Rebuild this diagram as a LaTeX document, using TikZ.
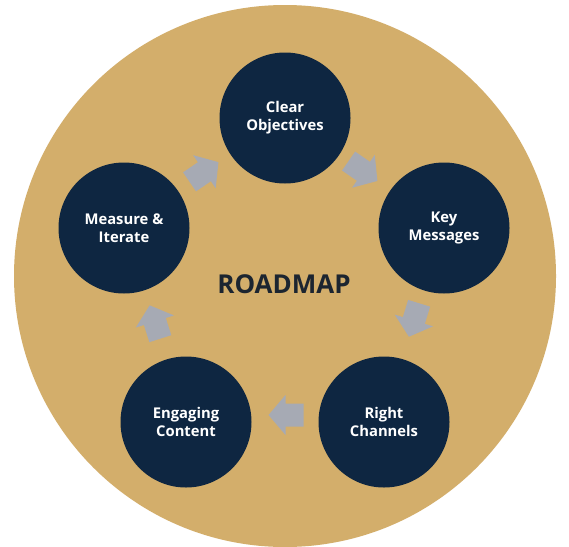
\documentclass[tikz,border=0pt]{standalone}
\usepackage{fontspec}
\setmainfont{Open Sans}
\definecolor{gold}{HTML}{D3AE6B}
\definecolor{navy}{HTML}{0E2641}
\definecolor{arrgray}{HTML}{A6AAB4}
\definecolor{titlecol}{HTML}{1C2530}
\begin{document}
\begin{tikzpicture}[x=1pt,y=-1pt,
  stepcircle/.style={circle,fill=navy,minimum size=131pt,inner sep=0pt,
    text=white,font=\fontsize{14.8}{18}\selectfont\bfseries,align=center},
  blockarrow/.style={fill=arrgray}]
\useasboundingbox (0,0) rectangle (569,546);
\fill[white] (0,0) rectangle (569,546);
\node[circle,fill=gold,minimum size=542pt,inner sep=0pt] (bg) at (285,276) {};
\node[stepcircle] (clear) at (285,118) {Clear\\Objectives};
\node[stepcircle] (key) at (444,228) {Key\\Messages};
\node[stepcircle] (right) at (384,422) {Right\\Channels};
\node[stepcircle] (eng) at (186,422) {Engaging\\Content};
\node[stepcircle] (meas) at (124,228) {Measure \&\\Iterate};
\node[font=\fontsize{26}{30}\selectfont\bfseries,text=titlecol] (title) at (284,284) {ROADMAP};
\foreach \px/\py/\ang in {363/171/-34.7, 414/320/-107, 286/415/180, 155/322/107.7, 204/172/34.3}{
  \begin{scope}[shift={(\px,\py)},rotate=\ang]
    \fill[blockarrow] (-17.5,-11.5) -- (0.5,-11.5) -- (0.5,-20) -- (17.5,0)
      -- (0.5,20) -- (0.5,11.5) -- (-17.5,11.5) -- cycle;
  \end{scope}
}
\end{tikzpicture}
\end{document}
